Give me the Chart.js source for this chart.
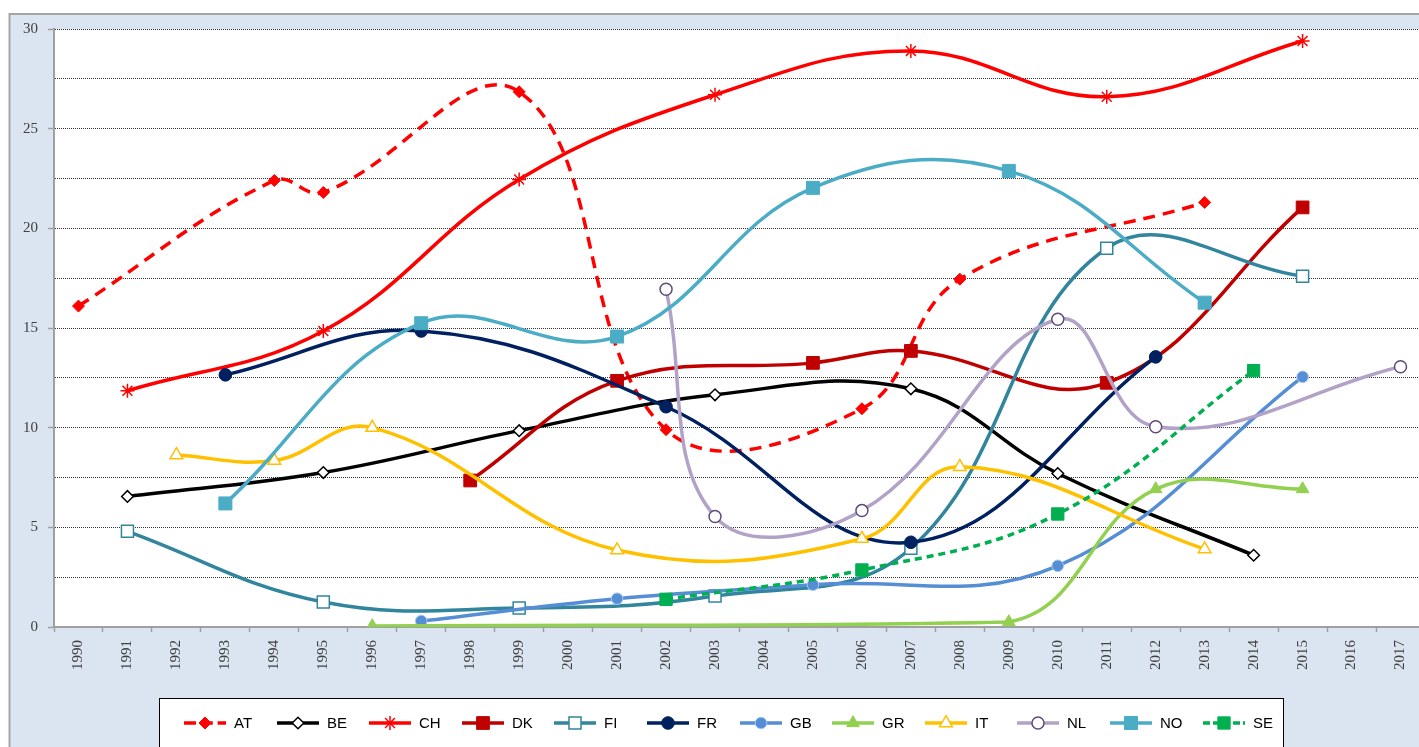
<!DOCTYPE html>
<html>
<head>
<meta charset="utf-8">
<script src="https://cdn.jsdelivr.net/npm/chart.js@4/dist/chart.umd.min.js"></script>
<style>
html,body{margin:0;padding:0;overflow:hidden;background:#fff;}
#wrap{position:absolute;left:0;top:0;width:1440px;height:747px;overflow:hidden;}
canvas{display:block;}
</style>
</head>
<body>
<div id="wrap"><canvas id="c" width="1440" height="747"></canvas></div>
<script>
const N = null;
const years = ['1990','1991','1992','1993','1994','1995','1996','1997','1998','1999','2000','2001','2002','2003','2004','2005','2006','2007','2008','2009','2010','2011','2012','2013','2014','2015','2016','2017'];
const yTickLabels = ['0','5','10','15','20','25','30'];

const AT = [16.1,N,N,N,22.4,21.8,N,N,N,26.85,N,N,9.9,N,N,N,10.95,N,17.45,N,N,N,N,21.3,N,N,N,N];
const BE = [N,6.55,N,N,N,7.75,N,N,N,9.85,N,N,N,11.65,N,N,N,11.95,N,N,7.7,N,N,N,3.6,N,N,N];
const CH = [N,11.85,N,N,N,14.85,N,N,N,22.45,N,N,N,26.7,N,N,N,28.9,N,N,N,26.6,N,N,N,29.4,N,N];
const DK = [N,N,N,N,N,N,N,N,7.35,N,N,12.35,N,N,N,13.25,N,13.85,N,N,N,12.25,N,N,N,21.05,N,N];
const FI = [N,4.8,N,N,N,1.25,N,N,N,0.95,N,N,N,1.55,N,N,N,3.95,N,N,N,19.0,N,N,N,17.6,N,N];
const FR = [N,N,N,12.65,N,N,N,14.85,N,N,N,N,11.05,N,N,N,N,4.25,N,N,N,N,13.55,N,N,N,N,N];
const GB = [N,N,N,N,N,N,N,0.3,N,N,N,1.42,N,N,N,2.12,N,N,N,N,3.07,N,N,N,N,12.55,N,N];
const GR = [N,N,N,N,N,N,0.05,N,N,N,N,N,N,N,N,N,N,N,N,0.25,N,N,6.92,N,N,6.92,N,N];
const IT = [N,N,8.63,N,8.35,N,10.0,N,N,N,N,3.86,N,N,N,N,4.43,N,8.04,N,N,N,N,3.91,N,N,N,N];
const NL = [N,N,N,N,N,N,N,N,N,N,N,N,16.94,5.54,N,N,5.84,N,N,N,15.44,N,10.05,N,N,N,N,13.06];
const NO = [N,N,N,6.2,N,N,N,15.24,N,N,N,14.57,N,N,N,22.03,N,N,N,22.88,N,N,N,16.27,N,N,N,N];
const SE = [N,N,N,N,N,N,N,N,N,N,N,N,1.39,N,N,N,2.86,N,N,N,5.67,N,N,N,12.86,N,N,N];

function series(label, data, line, style, radius, fill, border, bw, dash) {
  return {
    label: label, data: data,
    borderColor: line, backgroundColor: line,
    borderWidth: 3.5, borderDash: dash || [],
    pointStyle: style, pointRadius: radius,
    pointBackgroundColor: fill, pointBorderColor: border, pointBorderWidth: bw,
    pointHoverRadius: radius,
    tension: 0.4, spanGaps: true, fill: false
  };
}

const datasets = [
  series('AT', AT, '#ff0000', 'rectRot', 6, '#ff0000', '#ff0000', 1, [12, 8]),
  series('BE', BE, '#000000', 'rectRot', 5.8, '#ffffff', '#000000', 1.5),
  series('CH', CH, '#ff0000', 'star', 7, '#ff0000', '#ff0000', 1.5),
  series('DK', DK, '#c00000', 'rect', 9, '#c00000', '#c00000', 1),
  series('FI', FI, '#31859c', 'rect', 8.5, '#ffffff', '#31859c', 1.5),
  series('FR', FR, '#002060', 'circle', 6.3, '#002060', '#002060', 1),
  series('GB', GB, '#558ed5', 'circle', 5.8, '#558ed5', '#a9c8ee', 1),
  series('GR', GR, '#92d050', 'triangle', 7.3, '#92d050', '#92d050', 1),
  series('IT', IT, '#ffc000', 'triangle', 7.3, '#ffffff', '#ffc000', 1.5),
  series('NL', NL, '#b3a2c7', 'circle', 6, '#ffffff', '#604a7b', 1.5),
  series('NO', NO, '#4bacc6', 'rect', 9.2, '#4bacc6', '#4bacc6', 1),
  series('SE', SE, '#00b050', 'rect', 8.7, '#00b050', '#00b050', 1, [7, 5])
];
datasets.forEach((d, i) => { d.order = datasets.length - i; });

const bgPlugin = {
  id: 'bgPlugin',
  beforeDraw(chart) {
    const {ctx, chartArea: a, width, height} = chart;
    ctx.save();
    ctx.fillStyle = '#ffffff';
    ctx.fillRect(0, 0, width, height);
    ctx.fillStyle = '#dbe5f1';
    ctx.fillRect(9, 14, width - 9, height - 14);
    ctx.strokeStyle = '#a5a5a5';
    ctx.lineWidth = 2;
    ctx.beginPath();
    ctx.moveTo(9.5, height); ctx.lineTo(9.5, 14); ctx.lineTo(width, 14);
    ctx.stroke();
    ctx.fillStyle = '#ffffff';
    ctx.fillRect(a.left, a.top, a.right - a.left, a.bottom - a.top);
    ctx.restore();
  }
};

function drawMarker(ctx, ds, x, y) {
  ctx.save();
  ctx.setLineDash([]);
  ctx.fillStyle = ds.pointBackgroundColor;
  ctx.strokeStyle = ds.pointBorderColor;
  ctx.lineWidth = ds.pointBorderWidth;
  Chart.helpers.drawPoint(ctx, {pointStyle: ds.pointStyle, radius: ds.pointRadius, rotation: 0, borderWidth: ds.pointBorderWidth}, x, y);
  ctx.restore();
}

const boxLegend = {
  id: 'boxLegend',
  afterDraw(chart) {
    const ctx = chart.ctx;
    ctx.save();
    ctx.fillStyle = '#ffffff';
    ctx.strokeStyle = '#000000';
    ctx.lineWidth = 1;
    ctx.fillRect(159.5, 698.5, 1124, 70);
    ctx.strokeRect(159.5, 698.5, 1124, 70);
    const ly = 723;
    chart.data.datasets.forEach((ds, i) => {
      const x0 = Math.round(184 + i * 92.6);
      ctx.save();
      ctx.strokeStyle = ds.borderColor;
      ctx.lineWidth = 3.5;
      ctx.setLineDash(ds.borderDash && ds.borderDash.length ? [ds.borderDash[0], ds.borderDash[1] * 0.6] : []);
      ctx.beginPath();
      ctx.moveTo(x0, ly); ctx.lineTo(x0 + 42, ly);
      ctx.stroke();
      ctx.restore();
      drawMarker(ctx, ds, x0 + 21, ly);
      ctx.fillStyle = '#000000';
      ctx.font = '15px "Liberation Sans", Arial, sans-serif';
      ctx.textBaseline = 'middle';
      ctx.textAlign = 'left';
      ctx.fillText(ds.label, x0 + 50, ly + 1);
    });
    ctx.restore();
  }
};

new Chart(document.getElementById('c'), {
  type: 'line',
  data: { labels: years, datasets: datasets },
  options: {
    responsive: false,
    animation: false,
    events: [],
    layout: { padding: { left: 9, top: 29, right: 15, bottom: 0 } },
    plugins: { legend: { display: false }, tooltip: { enabled: false } },
    scales: {
      x: {
        type: 'category',
        offset: true,
        afterFit(scale) { scale.height = 120; scale.paddingLeft = 0; scale.paddingRight = 0; },
        grid: { display: true, drawOnChartArea: false, drawTicks: true, offset: true, tickLength: 5, tickColor: '#a0a0a0', tickWidth: 1.5, color: '#a0a0a0' },
        border: { display: true, color: '#a0a0a0', width: 2 },
        ticks: {
          autoSkip: false, maxRotation: 90, minRotation: 90, padding: 8,
          color: '#404040',
          font: { family: '"Liberation Serif", "Times New Roman", serif', size: 15 }
        }
      },
      y: {
        min: 0, max: 30,
        afterFit(scale) { scale.width = 45; },
        grid: {
          color: '#333333', lineWidth: 1, drawTicks: true, tickLength: 6, tickWidth: 1.5,
          tickColor: (c) => (c.tick && yTickLabels.includes(String(c.tick.value))) ? '#a0a0a0' : 'rgba(0,0,0,0)'
        },
        border: { display: true, color: '#a0a0a0', width: 2, dash: [1, 1] },
        ticks: {
          stepSize: 2.5, padding: 10,
          color: '#404040',
          font: { family: '"Liberation Serif", "Times New Roman", serif', size: 15 },
          callback: (v) => yTickLabels.includes(String(v)) ? String(v) : ''
        }
      }
    }
  },
  plugins: [bgPlugin, boxLegend]
});
</script>
</body>
</html>
